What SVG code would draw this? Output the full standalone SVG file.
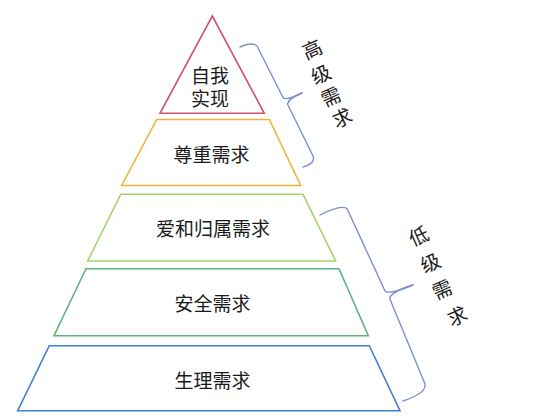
<svg xmlns="http://www.w3.org/2000/svg" width="554" height="419" viewBox="0 0 554 419">
<style>
.lvl{fill:#ffffff;stroke-width:1.6;stroke-linejoin:miter}
.t{font-family:"Noto Sans CJK SC","Noto Sans",sans-serif;font-size:19px;fill:#1a1a1a;text-anchor:middle;dominant-baseline:central}
.r{font-family:"Noto Sans CJK SC","Noto Sans",sans-serif;font-size:19.5px;fill:#1a1a1a;text-anchor:middle;dominant-baseline:central}
.brace{fill:none;stroke:#7b8fd0;stroke-width:1.4;stroke-linecap:round;stroke-linejoin:round}
</style>
<rect width="554" height="419" fill="#ffffff"/>
<g id="self-actualization">
<polygon class="lvl" stroke="#d2546c" points="212.3,16 264.3,113.3 160,113.3"/>
<text class="t"><tspan x="210" y="73.5">自我</tspan><tspan x="210" y="97">实现</tspan></text>
</g>
<g id="esteem">
<polygon class="lvl" stroke="#f2b13c" points="156.7,119.5 269.3,119.5 300.7,185.5 121.7,185.5"/>
<text class="t" x="211.5" y="153.5">尊重需求</text>
</g>
<g id="belonging">
<polygon class="lvl" stroke="#a6d46c" points="120.7,194.3 303,194.3 335.7,261 87.7,261"/>
<text class="t" x="213" y="227.5">爱和归属需求</text>
</g>
<g id="safety">
<polygon class="lvl" stroke="#5cb382" points="86,268.7 339,268.7 368.3,335.7 54,335.7"/>
<text class="t" x="212.5" y="302.5">安全需求</text>
</g>
<g id="physiological">
<polygon class="lvl" stroke="#3f7ed4" points="49.3,345.7 369.3,345.7 400,410.7 17.7,410.7"/>
<text class="t" x="212.5" y="379.5">生理需求</text>
</g>
<g id="connectors">
<path class="brace" d="M240,47 Q252,41.5 257,46 L283,97.5 Q286,101 302,93"/>
<path class="brace" d="M302,93 Q289,98 287.5,104 L313,156 Q316,163 303,167"/>
<path class="brace" d="M320,215 Q340,204.5 347,208.5 L385,291 Q389,295 413,285"/>
<path class="brace" d="M413,285 Q393,291 389.5,298 L425,384 Q427,393 403,401"/>
</g>
<g id="high-label">
<text class="r" x="311.7" y="48.3" transform="rotate(-24 311.7 48.3)">高</text>
<text class="r" x="320.5" y="73.3" transform="rotate(-24 320.5 73.3)">级</text>
<text class="r" x="330.5" y="95.5" transform="rotate(-24 330.5 95.5)">需</text>
<text class="r" x="341.7" y="116.7" transform="rotate(-24 341.7 116.7)">求</text>
</g>
<g id="low-label">
<text class="r" x="418.3" y="235" transform="rotate(-24 418.3 235)">低</text>
<text class="r" x="430" y="261.7" transform="rotate(-24 430 261.7)">级</text>
<text class="r" x="441.7" y="288.3" transform="rotate(-24 441.7 288.3)">需</text>
<text class="r" x="456.7" y="315" transform="rotate(-24 456.7 315)">求</text>
</g>
</svg>
